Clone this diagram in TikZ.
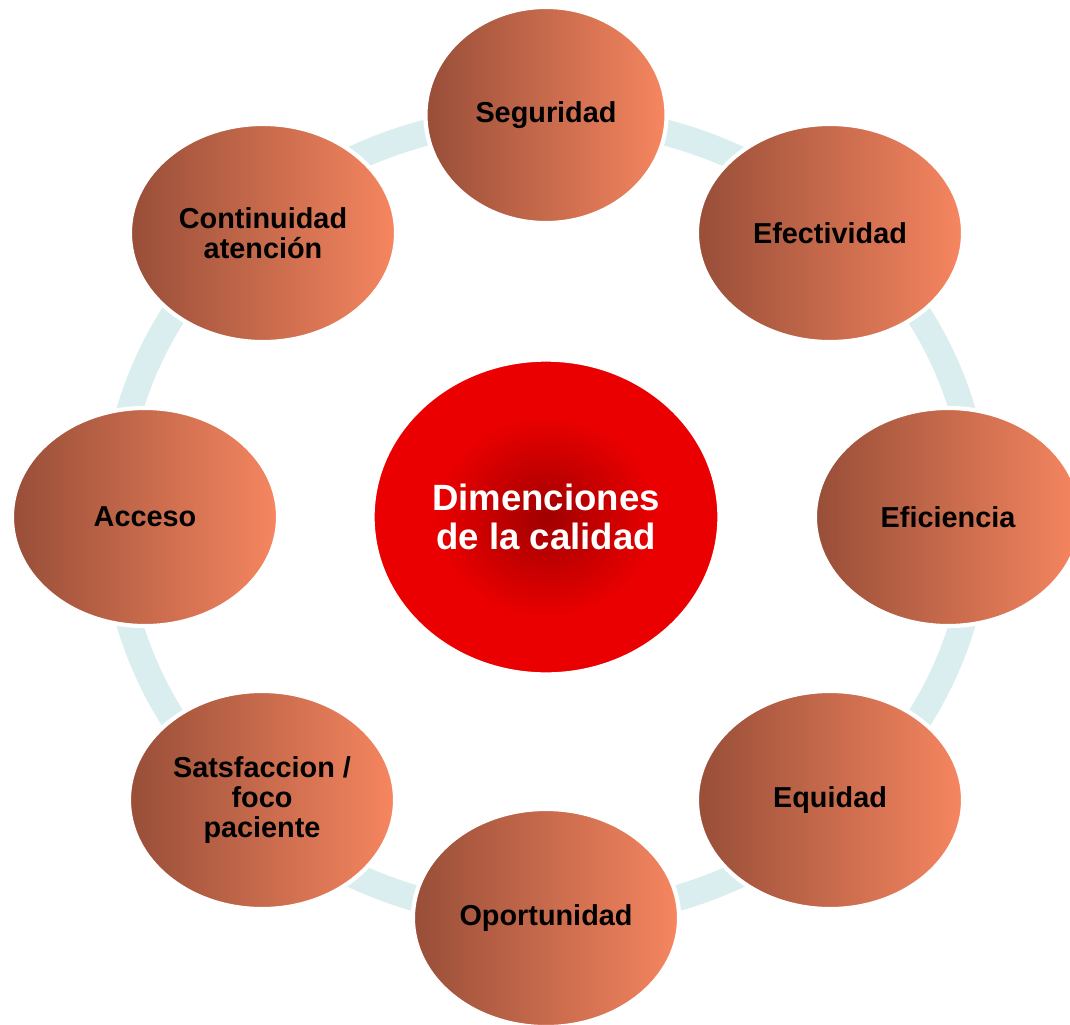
\documentclass[tikz,border=0pt]{standalone}
\usepackage{fontspec}
\setmainfont{Liberation Sans}
\usetikzlibrary{shapes.geometric}

\definecolor{ringblue}{RGB}{218,237,239}
\definecolor{petaldark}{RGB}{152,78,56}
\definecolor{petallight}{RGB}{246,134,96}
\definecolor{hubdark}{RGB}{160,0,0}
\definecolor{hubred}{RGB}{234,0,0}

\pgfdeclareradialshading{hubglow}{\pgfpoint{0bp}{0bp}}{%
    color(0bp)=(hubdark); color(16bp)=(hubred); color(25bp)=(hubred); color(50bp)=(hubred)}

\begin{document}
\begin{tikzpicture}[
        x=0.01cm, y=-0.01cm,
        petal/.style={ellipse, minimum width=2.66cm, minimum height=2.18cm, inner sep=0pt,
            left color=petaldark, right color=petallight, draw=white, line width=1.2pt,
            align=center, font=\fontsize{8.2}{8.6}\selectfont\bfseries},
        hub/.style={ellipse, minimum width=3.46cm, minimum height=3.14cm, inner sep=0pt,
            shading=hubglow, draw=white, line width=1pt, text=white,
            align=center, font=\fontsize{10.4}{10.9}\selectfont\bfseries},
        ring/.style={draw=ringblue, line width=0.26cm}
    ]

    \clip (0,0) rectangle (1070,1024);

    \node[hub] (hub) at (546,517) {};

    \draw[ring] (hub.center) ellipse [x radius=432, y radius=400];

    \node[hub] (calidad) at (hub.center) {Dimenciones\\de la calidad};

    \node[petal, minimum width=2.41cm, minimum height=2.16cm] (seguridad) at (546,115) {Seguridad};
    \node[petal] (efectividad) at (830,233) {Efectividad};
    \node[petal] (eficiencia) at (948,517) {Eficiencia};
    \node[petal] (equidad) at (830,800) {Equidad};
    \node[petal] (oportunidad) at (546,918) {Oportunidad};
    \node[petal] (satisfaccion) at (262,800) {Satsfaccion /\\foco\\paciente};
    \node[petal] (acceso) at (145,517) {Acceso};
    \node[petal] (continuidad) at (263,233) {Continuidad\\atención};

\end{tikzpicture}
\end{document}
